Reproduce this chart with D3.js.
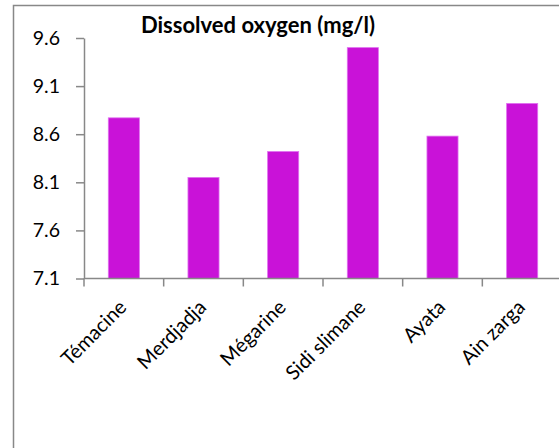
<!DOCTYPE html>
<html>
<head>
<meta charset="utf-8">
<script src="https://cdn.jsdelivr.net/npm/d3@7"></script>
<style>
  body { margin: 0; background: #fff; }
</style>
</head>
<body>
<script>
// Paramètres de la visualisation
const width = 559;
const height = 448;
const margin = { top: 38, right: -3, bottom: 169.5, left: 84 };
const color = '#c912d8';
const font = 'Lato, "Open Sans", sans-serif';

// Données
const categories = ["Témacine", "Merdjadja", "Mégarine", "Sidi slimane", "Ayata", "Ain zarga"];
const values = [8.77, 8.15, 8.42, 9.50, 8.58, 8.92];
const yTicks = [7.1, 7.6, 8.1, 8.6, 9.1, 9.6];
const title = "Dissolved oxygen (mg/l)";

const data = categories.map((c, i) => ({ name: c, value: values[i] }));

// Créer l'élément SVG
const svg = d3.select('body')
.append('svg')
.attr('width', width)
.attr('height', height)
.style('font-family', font)

// Cadre du graphique
svg.append('rect')
.attr('x', 13.5)
.attr('y', 5.5)
.attr('width', width + 10)
.attr('height', height + 10)
.attr('fill', 'none')
.attr('stroke', '#888')
.attr('stroke-width', 1.5)

// Échelles
const x = d3.scaleBand()
.domain(categories)
.range([margin.left, width - margin.right])
.paddingInner(0.61)
.paddingOuter(0.305)

const y = d3.scaleLinear()
.domain([d3.min(yTicks), d3.max(yTicks)])
.range([height - margin.bottom, margin.top])

// Barres
svg.selectAll('rect.bar')
.data(data)
.enter()
.append('rect')
.attr('class', 'bar')
.attr('x', d => x(d.name))
.attr('y', d => y(d.value))
.attr('width', x.bandwidth())
.attr('height', d => y(y.domain()[0]) - y(d.value))
.attr('fill', color)
.attr('stroke', '#e070f0')
.attr('stroke-width', 0.8)

// Axe vertical
svg.append('g')
.attr('transform', `translate(${margin.left}, 0)`)
.call(d3.axisLeft(y).tickValues(yTicks).tickFormat(d3.format('.1f')).tickSize(8).tickPadding(16).tickSizeOuter(0))
.call(g => g.selectAll('path, line').attr('stroke', '#888').attr('stroke-width', 1.5))
.call(g => g.selectAll('text').attr('font-size', 19.5).attr('font-family', font).attr('fill', '#000'))

// Axe horizontal (graduations entre les catégories)
const half = x.step() * x.paddingInner() / 2;
const bounds = categories.map(c => x(c) - half).concat([x(categories[categories.length - 1]) + x.bandwidth() + half]);

const xAxis = svg.append('g')
.attr('transform', `translate(0, ${y(y.domain()[0])})`)

xAxis.append('line')
.attr('x1', margin.left)
.attr('x2', bounds[bounds.length - 1])
.attr('stroke', '#888')
.attr('stroke-width', 1.5)

xAxis.selectAll('line.tick')
.data(bounds)
.enter()
.append('line')
.attr('class', 'tick')
.attr('x1', d => d)
.attr('x2', d => d)
.attr('y1', 0)
.attr('y2', 8)
.attr('stroke', '#888')
.attr('stroke-width', 1.5)

// Étiquettes inclinées
xAxis.selectAll('text')
.data(categories)
.enter()
.append('text')
.attr('text-anchor', 'end')
.attr('font-size', 20)
.attr('transform', d => `translate(${x(d) + x.bandwidth() / 2 + 4}, 30) rotate(-45)`)
.text(d => d)

// Titre
svg.append('text')
.attr('x', 258)
.attr('y', 33)
.attr('text-anchor', 'middle')
.attr('font-weight', 'bold')
.attr('font-size', 22)
.text(title)
</script>
</body>
</html>
